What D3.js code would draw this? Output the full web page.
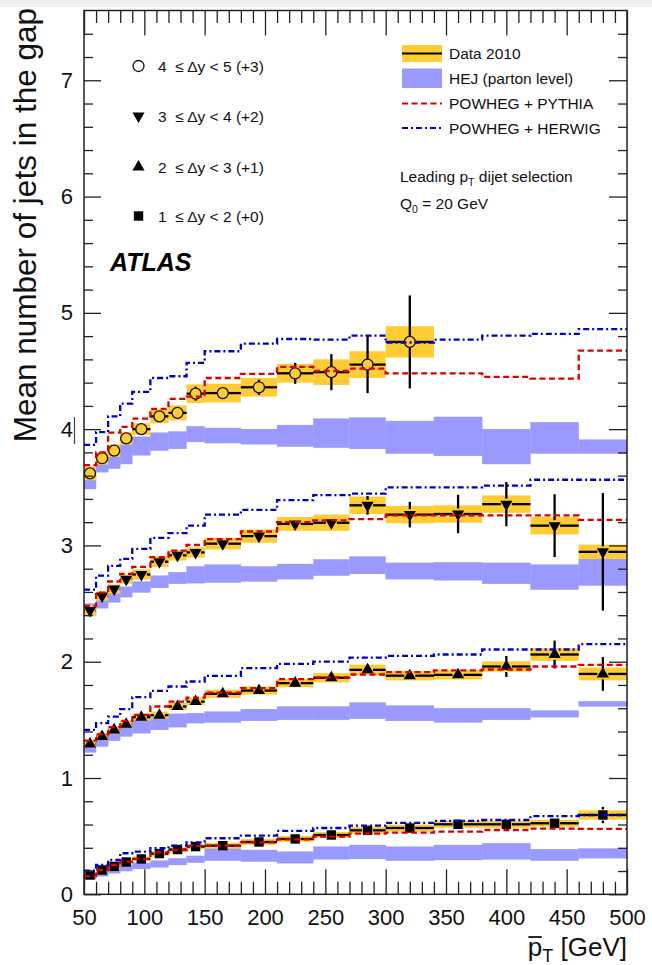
<!DOCTYPE html>
<html><head><meta charset="utf-8">
<script src="https://cdn.jsdelivr.net/npm/d3@7"></script>
<style>
html,body{margin:0;padding:0;background:#fff;}
svg{display:block;font-family:"Liberation Sans",Arial,Helvetica,sans-serif;}
text{white-space:pre;}
</style></head><body>
<svg id="chart" width="652" height="965"></svg>
<script>
// ---------------- data ----------------
const binEdges = [50,60,70,80,90,105,120,135,150,180,210,240,270,300,340,380,420,460,500];
const xTicksMajor = [50,100,150,200,250,300,350,400,450,500];
const xTicksMinor = [60,70,80,90,110,120,130,140,160,170,180,190,210,220,230,240,260,270,280,290,310,320,330,340,360,370,380,390,410,420,430,440,460,470,480,490];
const yTicksMajor = [0,1,2,3,4,5,6,7];
const yTicksMinor = [0.2,0.4,0.6,0.8,1.2,1.4,1.6,1.8,2.2,2.4,2.6,2.8,3.2,3.4,3.6,3.8,4.2,4.4,4.6,4.8,5.2,5.4,5.6,5.8,6.2,6.4,6.6,6.8,7.2,7.4];

const seriesLabels = ["4  \u2264 \u0394y < 5 (+3)","3  \u2264 \u0394y < 4 (+2)","2  \u2264 \u0394y < 3 (+1)","1  \u2264 \u0394y < 2 (+0)"];
const seriesMarkers = ["circle","down","up","square"];

// values as plotted (offset included)
const dataA   = [3.62,3.75,3.815,3.92,4.00,4.11,4.14,4.305,4.31,4.36,4.48,4.49,4.555,4.75];
const statA   = [0.01,0.01,0.01,0.01,0.01,0.015,0.02,0.06,0.03,0.065,0.09,0.155,0.245,0.40];
const systA   = [0.06,0.055,0.055,0.055,0.05,0.06,0.065,0.08,0.08,0.08,0.08,0.11,0.115,0.135];
const hejLoA  = [3.485,3.63,3.66,3.70,3.775,3.815,3.83,3.89,3.88,3.87,3.85,3.84,3.83,3.79,3.77,3.70,3.79,3.79];
const hejHiA  = [3.60,3.76,3.81,3.87,3.935,3.97,3.98,4.025,4.01,4.00,4.035,4.09,4.10,4.07,4.105,4.00,4.06,3.91];
const pythiaA = [3.69,3.80,3.97,4.02,4.09,4.175,4.26,4.28,4.44,4.475,4.535,4.50,4.52,4.48,4.48,4.45,4.435,4.675];
const herwigA = [3.865,3.975,4.11,4.22,4.32,4.44,4.455,4.57,4.67,4.735,4.775,4.77,4.805,4.745,4.77,4.805,4.82,4.86];

const dataB   = [2.44,2.565,2.625,2.71,2.75,2.86,2.915,2.94,3.015,3.08,3.185,3.195,3.345,3.265,3.27,3.355,3.17,2.945];
const statB   = [0.01,0.01,0.01,0.01,0.01,0.015,0.015,0.02,0.02,0.025,0.03,0.03,0.08,0.11,0.165,0.19,0.27,0.505];
const systB   = [0.045,0.04,0.04,0.04,0.045,0.045,0.045,0.045,0.05,0.057,0.06,0.07,0.075,0.075,0.075,0.075,0.075,0.062];
const hejLoB  = [2.40,2.46,2.51,2.555,2.595,2.635,2.67,2.675,2.68,2.69,2.71,2.74,2.755,2.71,2.70,2.67,2.62,2.655];
const hejHiB  = [2.50,2.55,2.59,2.645,2.69,2.74,2.77,2.82,2.835,2.82,2.84,2.88,2.905,2.85,2.855,2.85,2.835,2.885];
const pythiaB = [2.48,2.595,2.69,2.755,2.815,2.90,2.955,3.005,3.055,3.12,3.20,3.215,3.227,3.258,3.258,3.258,3.258,3.22];
const herwigB = [2.62,2.74,2.825,2.885,2.97,3.065,3.105,3.17,3.265,3.305,3.39,3.433,3.445,3.50,3.50,3.515,3.565,3.565];

const dataC   = [1.293,1.357,1.414,1.463,1.523,1.54,1.615,1.657,1.724,1.752,1.816,1.862,1.93,1.88,1.887,1.959,2.062,1.895];
const statC   = [0.01,0.01,0.01,0.01,0.01,0.01,0.01,0.01,0.015,0.015,0.02,0.02,0.03,0.025,0.03,0.09,0.12,0.145];
const systC   = [0.03,0.03,0.03,0.03,0.03,0.03,0.03,0.03,0.035,0.035,0.035,0.04,0.045,0.04,0.04,0.045,0.055,0.055];
const hejLoC  = [1.22,1.27,1.32,1.357,1.385,1.414,1.437,1.472,1.477,1.491,1.50,1.50,1.509,1.491,1.478,1.50,1.523,1.615];
const hejHiC  = [1.29,1.34,1.39,1.448,1.50,1.528,1.552,1.558,1.571,1.592,1.615,1.615,1.649,1.623,1.60,1.60,1.58,1.66];
const pythiaC = [1.322,1.375,1.437,1.491,1.543,1.615,1.657,1.692,1.735,1.773,1.85,1.865,1.89,1.91,1.925,1.933,1.959,1.973];
const herwigC = [1.414,1.472,1.528,1.592,1.695,1.75,1.787,1.83,1.879,1.945,1.982,2.0,2.035,2.05,2.062,2.105,2.105,2.151];

const dataD   = [0.166,0.209,0.24,0.278,0.304,0.35,0.385,0.41,0.418,0.45,0.476,0.51,0.55,0.57,0.602,0.602,0.611,0.682];
const statD   = [0.005,0.005,0.005,0.005,0.005,0.005,0.005,0.005,0.005,0.005,0.008,0.01,0.012,0.012,0.015,0.02,0.02,0.07];
const systD   = [0.02,0.02,0.02,0.02,0.02,0.02,0.02,0.02,0.025,0.025,0.025,0.025,0.03,0.03,0.03,0.03,0.03,0.04];
const hejLoD  = [0.13,0.155,0.18,0.20,0.218,0.232,0.252,0.272,0.289,0.281,0.267,0.301,0.304,0.289,0.295,0.30,0.289,0.31];
const hejHiD  = [0.175,0.205,0.23,0.25,0.27,0.29,0.31,0.33,0.396,0.381,0.367,0.41,0.424,0.41,0.424,0.439,0.388,0.394];
const pythiaD = [0.157,0.209,0.252,0.281,0.304,0.361,0.381,0.416,0.418,0.447,0.473,0.496,0.522,0.53,0.539,0.553,0.565,0.563];
const herwigD = [0.203,0.252,0.295,0.353,0.367,0.396,0.418,0.447,0.482,0.505,0.545,0.57,0.59,0.614,0.632,0.639,0.672,0.682];

const series = [
  {marker:"circle", data:dataA, stat:statA, syst:systA, hejLo:hejLoA, hejHi:hejHiA, pythia:pythiaA, herwig:herwigA},
  {marker:"down",   data:dataB, stat:statB, syst:systB, hejLo:hejLoB, hejHi:hejHiB, pythia:pythiaB, herwig:herwigB},
  {marker:"up",     data:dataC, stat:statC, syst:systC, hejLo:hejLoC, hejHi:hejHiC, pythia:pythiaC, herwig:herwigC},
  {marker:"square", data:dataD, stat:statD, syst:systD, hejLo:hejLoD, hejHi:hejHiD, pythia:pythiaD, herwig:herwigD}
];

// ---------------- drawing ----------------
const svg = d3.select("#chart");
const FONT = '"Liberation Sans",Arial,Helvetica,sans-serif';
const YELLOW = "#ffcc33", HEJC = "#9999ff", RED = "#dd0000", BLUE = "#0000cc";

const x = d3.scaleLinear().domain([50,500]).range([84,627]);
const y = d3.scaleLinear().domain([0,7.6]).range([894.3,10.5]);

svg.append("rect").attr("x",0).attr("y",0).attr("width",652).attr("height",7).attr("fill","#efefef");

const plot = svg.append("g");
const bins = d3.range(binEdges.length-1).map(i => ({lo:binEdges[i], hi:binEdges[i+1], c:(binEdges[i]+binEdges[i+1])/2}));

// HEJ bands
series.forEach(s => {
  plot.append("g").selectAll("rect").data(bins).join("rect")
    .attr("x", d => x(d.lo)).attr("width", d => x(d.hi)-x(d.lo))
    .attr("y", (d,i) => y(s.hejHi[i])).attr("height", (d,i) => y(s.hejLo[i]) - y(s.hejHi[i]))
    .attr("fill", HEJC).attr("stroke", HEJC).attr("stroke-width",0.3);
});
// systematic boxes
series.forEach(s => {
  plot.append("g").selectAll("rect").data(s.data).join("rect")
    .attr("x", (d,i) => x(bins[i].lo)).attr("width", (d,i) => x(bins[i].hi)-x(bins[i].lo))
    .attr("y", (d,i) => y(d + s.syst[i])).attr("height", (d,i) => y(d - s.syst[i]) - y(d + s.syst[i]))
    .attr("fill", YELLOW);
});
// data points
const R = 5.5;
series.forEach(s => {
  const g = plot.append("g");
  s.data.forEach((v,i) => {
    const b = bins[i], cx = x(b.c), cy = y(v);
    g.append("line").attr("x1", x(b.lo)).attr("x2", cx - R).attr("y1", cy).attr("y2", cy);
    g.append("line").attr("x1", cx + R).attr("x2", x(b.hi)).attr("y1", cy).attr("y2", cy);
    const top = y(v + s.stat[i]), bot = y(v - s.stat[i]);
    if (cy - top > R) g.append("line").attr("x1", cx).attr("x2", cx).attr("y1", top).attr("y2", cy - R);
    if (bot - cy > R) g.append("line").attr("x1", cx).attr("x2", cx).attr("y1", cy + R).attr("y2", bot);
    drawMarker(g, s.marker, cx, cy);
  });
  g.selectAll("line").attr("stroke","#000").attr("stroke-width",2.3);
});

function drawMarker(g, type, cx, cy) {
  if (type === "circle") {
    g.append("circle").attr("cx",cx).attr("cy",cy).attr("r",R).attr("fill","none").attr("stroke","#111").attr("stroke-width",1.3);
  } else if (type === "square") {
    g.append("path").attr("d", d3.symbol(d3.symbolSquare, 88)()).attr("transform",`translate(${cx},${cy})`).attr("fill","#000");
  } else {
    const rot = type === "down" ? 180 : 0;
    g.append("path").attr("d", d3.symbol(d3.symbolTriangle, 64)()).attr("transform",`translate(${cx},${cy}) rotate(${rot})`).attr("fill","#000");
  }
}

// MC step lines
function stepPts(vals){ const p = vals.map((v,i)=>[binEdges[i], v]); p.push([binEdges[binEdges.length-1], vals[vals.length-1]]); return p; }
const stepLine = d3.line().x(d => x(d[0])).y(d => y(d[1])).curve(d3.curveStepAfter);
series.forEach(s => {
  plot.append("path").attr("d", stepLine(stepPts(s.pythia))).attr("fill","none").attr("stroke",RED).attr("stroke-width",2.3).attr("stroke-dasharray","6,3.5");
});
series.forEach(s => {
  plot.append("path").attr("d", stepLine(stepPts(s.herwig))).attr("fill","none").attr("stroke",BLUE).attr("stroke-width",2.3).attr("stroke-dasharray","6,3,2,3");
});

// ---------------- axes ----------------
function styleAx(sel, withText) {
  sel.select(".domain").remove();
  sel.selectAll("line").attr("stroke","#222").attr("stroke-width",1.3);
  if (withText) sel.selectAll("text").attr("font-size",22).attr("fill","#111").attr("font-family",FONT);
  else sel.selectAll("text").remove();
}
svg.append("g").attr("transform","translate(0,894.3)")
  .call(d3.axisBottom(x).tickValues(xTicksMajor).tickSize(-25).tickSizeOuter(0).tickPadding(15).tickFormat(d3.format("d"))).call(s => styleAx(s,true));
svg.append("g").attr("transform","translate(0,894.3)")
  .call(d3.axisBottom(x).tickValues(xTicksMinor).tickSize(-12.5).tickSizeOuter(0)).call(s => styleAx(s,false));
svg.append("g").attr("transform","translate(0,10.5)")
  .call(d3.axisTop(x).tickValues(xTicksMajor).tickSize(-25).tickSizeOuter(0)).call(s => styleAx(s,false));
svg.append("g").attr("transform","translate(0,10.5)")
  .call(d3.axisTop(x).tickValues(xTicksMinor).tickSize(-12.5).tickSizeOuter(0)).call(s => styleAx(s,false));
svg.append("g").attr("transform","translate(84,0)")
  .call(d3.axisLeft(y).tickValues(yTicksMajor).tickSize(-17).tickSizeOuter(0).tickPadding(11).tickFormat(d3.format("d"))).call(s => styleAx(s,true));
svg.append("g").attr("transform","translate(84,0)")
  .call(d3.axisLeft(y).tickValues(yTicksMinor).tickSize(-9).tickSizeOuter(0)).call(s => styleAx(s,false));
svg.append("g").attr("transform","translate(627,0)")
  .call(d3.axisRight(y).tickValues(yTicksMajor).tickSize(-18).tickSizeOuter(0)).call(s => styleAx(s,false));
svg.append("g").attr("transform","translate(627,0)")
  .call(d3.axisRight(y).tickValues(yTicksMinor).tickSize(-9).tickSizeOuter(0)).call(s => styleAx(s,false));

svg.append("rect").attr("x",84).attr("y",10.5).attr("width",543).attr("height",894.3-10.5)
  .attr("fill","none").attr("stroke","#222").attr("stroke-width",1.5);
// small artifact next to the "4" label
svg.append("line").attr("x1",74.5).attr("x2",74.5).attr("y1",417).attr("y2",444).attr("stroke","#444").attr("stroke-width",1.2);

// axis titles
svg.append("text").attr("transform","translate(36,8) rotate(-90)").attr("text-anchor","end")
  .attr("font-size",31.5).attr("fill","#111").text("Mean number of jets in the gap");
const xt = svg.append("text").attr("x",627).attr("y",956).attr("text-anchor","end").attr("font-size",26).attr("fill","#111");
xt.append("tspan").text("p");
xt.append("tspan").attr("font-size",18).attr("dy",6).text("T");
xt.append("tspan").attr("dy",-6).text(" [GeV]");
const pe = xt.node().getExtentOfChar(0);
svg.append("line").attr("x1",pe.x+0.5).attr("x2",pe.x+pe.width-0.5).attr("y1",937).attr("y2",937).attr("stroke","#111").attr("stroke-width",1.8);

// left legend
const legY = [66,116,167,216];
seriesLabels.forEach((lab,i) => {
  const g = svg.append("g");
  drawMarker(g, seriesMarkers[i], 138.5, legY[i]);
  svg.append("text").attr("x",158).attr("y",legY[i]+5.5).attr("font-size",15.5).attr("fill","#111").text(lab);
});
svg.append("text").attr("x",110).attr("y",271).attr("font-size",25).attr("font-weight","bold").attr("font-style","italic").attr("fill","#000").text("ATLAS");

// right legend
const lg = svg.append("g");
lg.append("rect").attr("x",402).attr("y",45).attr("width",40).attr("height",17).attr("fill",YELLOW);
lg.append("line").attr("x1",402).attr("x2",442).attr("y1",53.5).attr("y2",53.5).attr("stroke","#000").attr("stroke-width",1.8);
lg.append("rect").attr("x",402).attr("y",68.5).attr("width",40).attr("height",19.5).attr("fill",HEJC);
lg.append("line").attr("x1",402).attr("x2",442).attr("y1",103.5).attr("y2",103.5).attr("stroke",RED).attr("stroke-width",2.2).attr("stroke-dasharray","6,3.5");
lg.append("line").attr("x1",402).attr("x2",442).attr("y1",128).attr("y2",128).attr("stroke",BLUE).attr("stroke-width",2.2).attr("stroke-dasharray","6,3,2,3");
const legTexts = ["Data 2010","HEJ (parton level)","POWHEG + PYTHIA","POWHEG + HERWIG"];
const legBase = [59,84,109,134];
legTexts.forEach((t,i) => lg.append("text").attr("x",449).attr("y",legBase[i]).attr("font-size",15.5).attr("fill","#111").text(t));

const t1 = svg.append("text").attr("x",400).attr("y",181.5).attr("font-size",15.5).attr("fill","#111");
t1.append("tspan").text("Leading p");
t1.append("tspan").attr("font-size",10.5).attr("dy",4).text("T");
t1.append("tspan").attr("dy",-4).text(" dijet selection");
const t2 = svg.append("text").attr("x",400).attr("y",209).attr("font-size",15.5).attr("fill","#111");
t2.append("tspan").text("Q");
t2.append("tspan").attr("font-size",10.5).attr("dy",4).text("0");
t2.append("tspan").attr("dy",-4).text(" = 20 GeV");
</script>
</body></html>
